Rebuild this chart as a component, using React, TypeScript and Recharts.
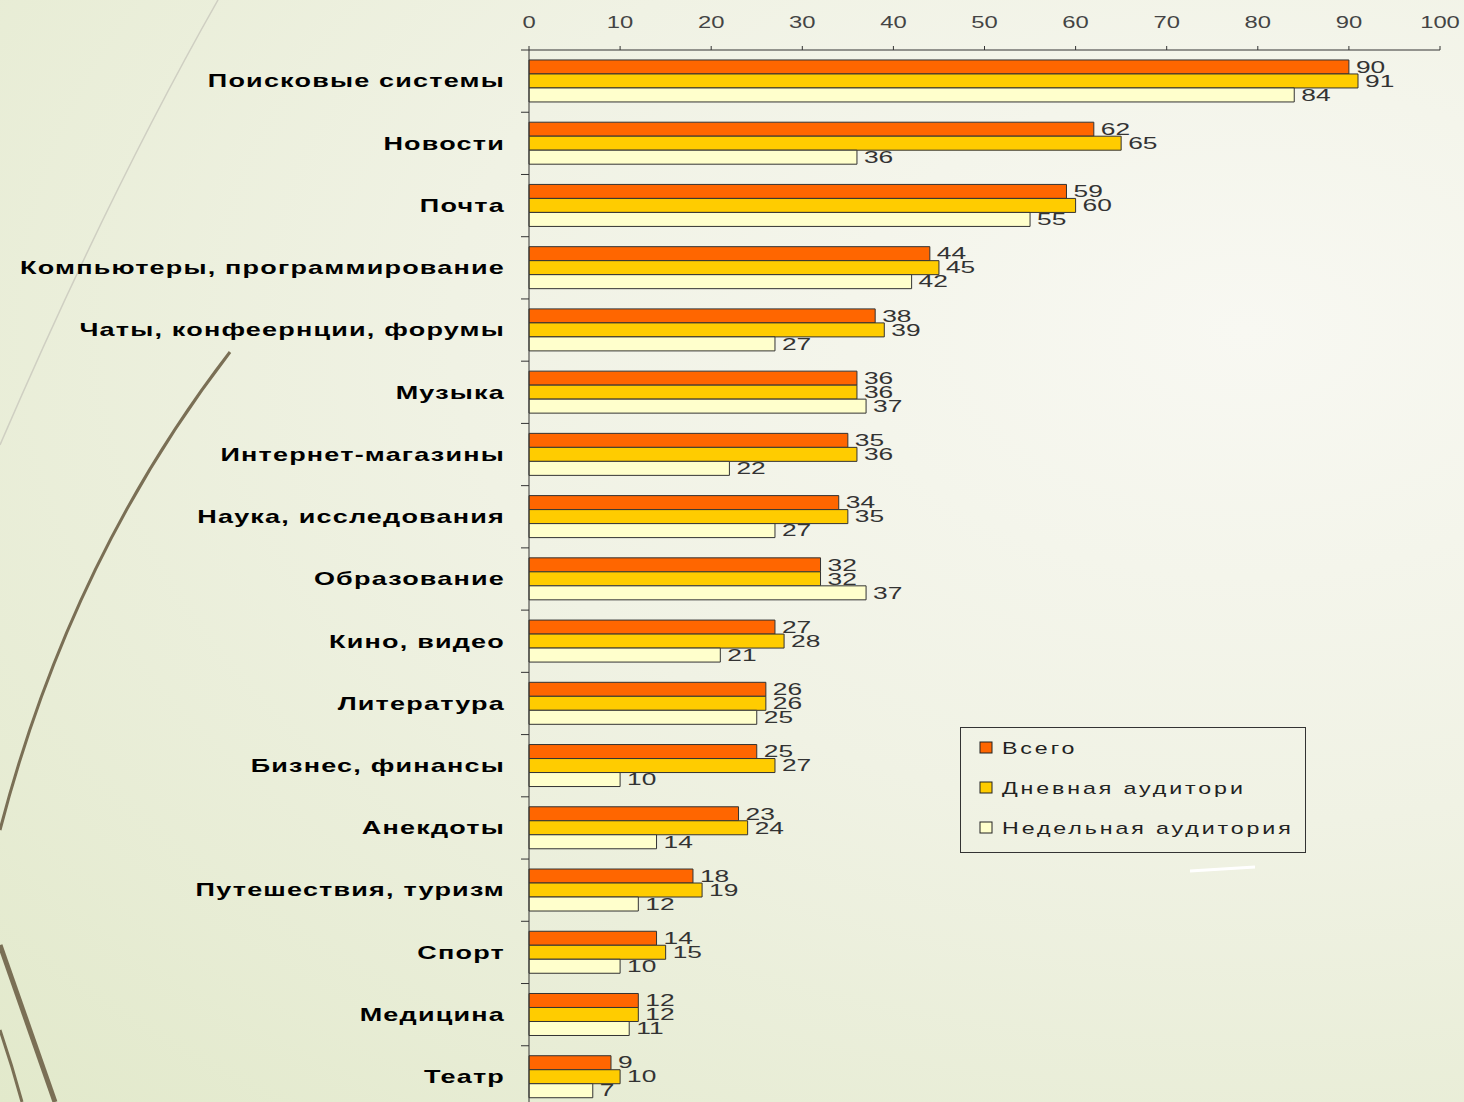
import React from "react";
import { BarChart, Bar, XAxis, YAxis, LabelList } from "recharts";

const categories = [
  "Поисковые системы",
  "Новости",
  "Почта",
  "Компьютеры, программирование",
  "Чаты, конфеернции, форумы",
  "Музыка",
  "Интернет-магазины",
  "Наука, исследования",
  "Образование",
  "Кино, видео",
  "Литература",
  "Бизнес, финансы",
  "Анекдоты",
  "Путешествия, туризм",
  "Спорт",
  "Медицина",
  "Театр",
];

const vsego = [90, 62, 59, 44, 38, 36, 35, 34, 32, 27, 26, 25, 23, 18, 14, 12, 9];
const dnevnaya = [91, 65, 60, 45, 39, 36, 36, 35, 32, 28, 26, 27, 24, 19, 15, 12, 10];
const nedelnaya = [84, 36, 55, 42, 27, 37, 22, 27, 37, 21, 25, 10, 14, 12, 10, 11, 7];

const xTicks = [0, 10, 20, 30, 40, 50, 60, 70, 80, 90, 100];

const series = [
  { key: "vsego", name: "Всего", color: "#ff6600" },
  { key: "dnevnaya", name: "Дневная аудитори", color: "#ffcc00" },
  { key: "nedelnaya", name: "Недельная аудитория", color: "#ffffcc" },
];

const data = categories.map((name, i) => ({
  name,
  vsego: vsego[i],
  dnevnaya: dnevnaya[i],
  nedelnaya: nedelnaya[i],
}));

const W = 1464;
const H = 1108;
const AXIS_X = 529;
const TOP = 50;
const HALF_BAND = (H - TOP) / categories.length / 2;
const FONT = "'Liberation Sans', Arial, sans-serif";

// category labels + boundary tick marks
const CategoryTick = (props: any) => {
  const { y, payload, index } = props;
  return (
    <g>
      <line x1={AXIS_X - 8} x2={AXIS_X} y1={y - HALF_BAND} y2={y - HALF_BAND} stroke="#333" />
      {index === categories.length - 1 && (
        <line x1={AXIS_X - 8} x2={AXIS_X} y1={y + HALF_BAND} y2={y + HALF_BAND} stroke="#333" />
      )}
      <text
        transform={`translate(${505},${y}) scale(1.5,1)`}
        textAnchor="end"
        dominantBaseline="central"
        fontFamily={FONT}
        fontWeight="bold"
        fontSize={18}
        letterSpacing={0.8}
        fill="#000"
      >
        {payload.value}
      </text>
    </g>
  );
};

const ValueTick = (props: any) => {
  const { x, payload } = props;
  return (
    <text
      transform={`translate(${x},${22}) scale(1.4,1)`}
      textAnchor="middle"
      dominantBaseline="central"
      fontFamily={FONT}
      fontSize={17}
      fill="#444"
    >
      {payload.value}
    </text>
  );
};

const BarValue = (props: any) => {
  const { x, y, width, height, value } = props;
  return (
    <text
      transform={`translate(${x + width + 7},${y + height / 2}) scale(1.55,1)`}
      textAnchor="start"
      dominantBaseline="central"
      fontFamily={FONT}
      fontSize={17}
      fill="#333"
    >
      {value}
    </text>
  );
};

const LegendBox = () => (
  <svg width={346} height={126} style={{ position: "absolute", left: 960, top: 727 }}>
    <rect x={0.5} y={0.5} width={345} height={125} fill="none" stroke="#333" />
    {series.map((s, i) => (
      <g key={s.key}>
        <rect x={20} y={15 + i * 40} width={12} height={11} fill={s.color} stroke="#222" />
        <text
          transform={`translate(${42},${21 + i * 40}) scale(1.45,1)`}
          dominantBaseline="central"
          fontFamily={FONT}
          fontSize={16}
          letterSpacing={2}
          fill="#222"
        >
          {s.name}
        </text>
      </g>
    ))}
  </svg>
);

export default function App() {
  return (
    <div
      style={{
        position: "absolute",
        left: 0,
        top: 0,
        width: 1464,
        height: 1102,
        overflow: "hidden",
        background:
          "radial-gradient(ellipse at 85% 30%, #f8f8f2 0%, #f0f2e4 45%, #e2e9cb 100%)",
      }}
    >
      {/* slide decoration */}
      <svg width={1464} height={1102} style={{ position: "absolute", left: 0, top: 0 }}>
        <path d="M 218 0 Q 110 190 0 445" fill="none" stroke="#cfcfc2" strokeWidth={1.5} />
        <path d="M 230 352 Q 70 560 0 830" fill="none" stroke="#7a6f55" strokeWidth={3} />
        <path d="M 0 945 Q 30 1030 55 1102" fill="none" stroke="#7a6f55" strokeWidth={5} />
        <path d="M 0 1030 Q 12 1065 22 1102" fill="none" stroke="#7a6f55" strokeWidth={3} />
        <path d="M 1190 871 L 1255 867" fill="none" stroke="#ffffff" strokeWidth={3} />
      </svg>
      <div style={{ position: "absolute", left: 0, top: 0 }}>
        <BarChart
          layout="vertical"
          width={W}
          height={H}
          data={data}
          margin={{ top: 0, right: 24, left: 0, bottom: 0 }}
          barCategoryGap="16%"
          barGap={0}
        >
          <XAxis
            type="number"
            orientation="top"
            domain={[0, 100]}
            ticks={xTicks}
            height={TOP}
            stroke="#333"
            tickSize={4}
            tick={<ValueTick />}
          />
          <YAxis
            type="category"
            dataKey="name"
            width={AXIS_X}
            stroke="#333"
            tickLine={false}
            interval={0}
            tick={<CategoryTick />}
          />
          {series.map((s) => (
            <Bar
              key={s.key}
              dataKey={s.key}
              name={s.name}
              fill={s.color}
              stroke="#333"
              isAnimationActive={false}
            >
              <LabelList dataKey={s.key} content={<BarValue />} />
            </Bar>
          ))}
        </BarChart>
      </div>
      <LegendBox />
    </div>
  );
}
